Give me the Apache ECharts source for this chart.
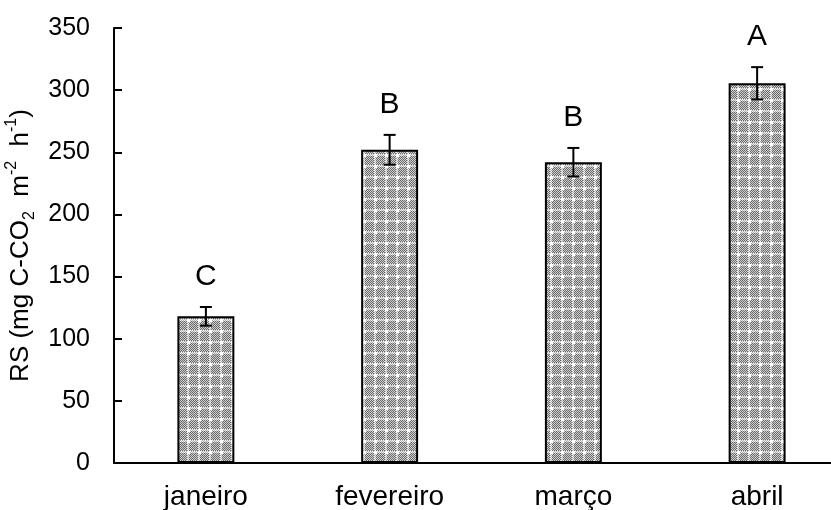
<!DOCTYPE html>
<html>
<head>
<meta charset="utf-8">
<script src="https://cdn.jsdelivr.net/npm/echarts@6/dist/echarts.min.js"></script>
<style>html,body{margin:0;padding:0;background:#fff}#c{width:831px;height:510px}</style>
</head>
<body>
<div id="c"></div>
<script>
var categories = ['janeiro', 'fevereiro', 'março', 'abril'];
var means = [118, 252, 242, 305.5];
var errors = [7.5, 12, 11.5, 13];
var letters = ['C', 'B', 'B', 'A'];
var yTicks = [0, 50, 100, 150, 200, 250, 300, 350];

// pattern tile: fine checker with white dots on a lighter grid
var N = 11;
var tile = document.createElement('canvas');
tile.width = N; tile.height = N;
var tc = tile.getContext('2d');
for (var i = 0; i < N; i++) {
  for (var j = 0; j < N; j++) {
    var dark = ((i + j) % 2 === 0);
    var onLine = (i === 0 || j === 0 || i === 1 || j === 1);
    if (onLine) tc.fillStyle = dark ? '#b0b0b0' : '#f0f0f0';
    else tc.fillStyle = dark ? '#6a6a6a' : '#cfcfcf';
    tc.fillRect(i, j, 1, 1);
  }
}
tc.fillStyle = '#ffffff';
tc.fillRect(0, 0, 3, 3);

var chart = echarts.init(document.getElementById('c'));
var font = 'Liberation Sans, Arial, sans-serif';
chart.setOption({
  animation: false,
  grid: { left: 114, right: -18, top: 28, bottom: 47, containLabel: false, outerBoundsMode: 'none' },
  xAxis: {
    type: 'category',
    data: categories,
    axisLine: { lineStyle: { color: '#000', width: 2 } },
    axisTick: { show: false },
    axisLabel: { color: '#000', fontSize: 28, fontFamily: font, margin: 20 }
  },
  yAxis: {
    type: 'value',
    min: 0, max: 350, interval: 50,
    name: '{n|RS (mg C-CO}{sub|2}{n|  m}{sup|-2}{n|  h}{sup|-1}{n|)}',
    nameLocation: 'middle',
    nameGap: 76,
    nameTextStyle: {
      color: '#000', fontSize: 26, fontFamily: font,
      rich: {
        n: { fontSize: 26, fontFamily: font, color: '#000', lineHeight: 34, verticalAlign: 'middle' },
        sub: { fontSize: 16, fontFamily: font, color: '#000', lineHeight: 34, verticalAlign: 'bottom' },
        sup: { fontSize: 16, fontFamily: font, color: '#000', lineHeight: 34, verticalAlign: 'top' }
      }
    },
    axisLine: { show: true, lineStyle: { color: '#000', width: 2 } },
    axisTick: { show: true, inside: true, length: 8, lineStyle: { color: '#000', width: 2 } },
    axisLabel: { color: '#000', fontSize: 25, fontFamily: font, margin: 24,
      formatter: function (v) { return yTicks.indexOf(v) >= 0 ? String(v) : ''; } },
    splitLine: { show: false }
  },
  series: [
    {
      type: 'bar',
      data: means,
      barWidth: '31%',
      itemStyle: {
        color: { image: tile, repeat: 'repeat' },
        borderColor: '#000', borderWidth: 2
      }
    },
    {
      type: 'custom',
      data: means.map(function (m, i) { return [i, m, errors[i]]; }),
      z: 10,
      renderItem: function (params, api) {
        var x = api.value(0), m = api.value(1), e = api.value(2);
        var top = api.coord([x, m + e]);
        var bot = api.coord([x, m - e]);
        var hw = 6;
        var style = { stroke: '#000', lineWidth: 2 };
        return {
          type: 'group',
          children: [
            { type: 'line', shape: { x1: top[0], y1: top[1], x2: bot[0], y2: bot[1] }, style: style },
            { type: 'line', shape: { x1: top[0] - hw, y1: top[1], x2: top[0] + hw, y2: top[1] }, style: style },
            { type: 'line', shape: { x1: bot[0] - hw, y1: bot[1], x2: bot[0] + hw, y2: bot[1] }, style: style },
            { type: 'text', style: { text: letters[params.dataIndex], x: top[0], y: top[1] - 15,
              textAlign: 'center', textVerticalAlign: 'bottom', fontSize: 30, fontFamily: font, fill: '#000' } }
          ]
        };
      }
    }
  ]
});
</script>
</body>
</html>
